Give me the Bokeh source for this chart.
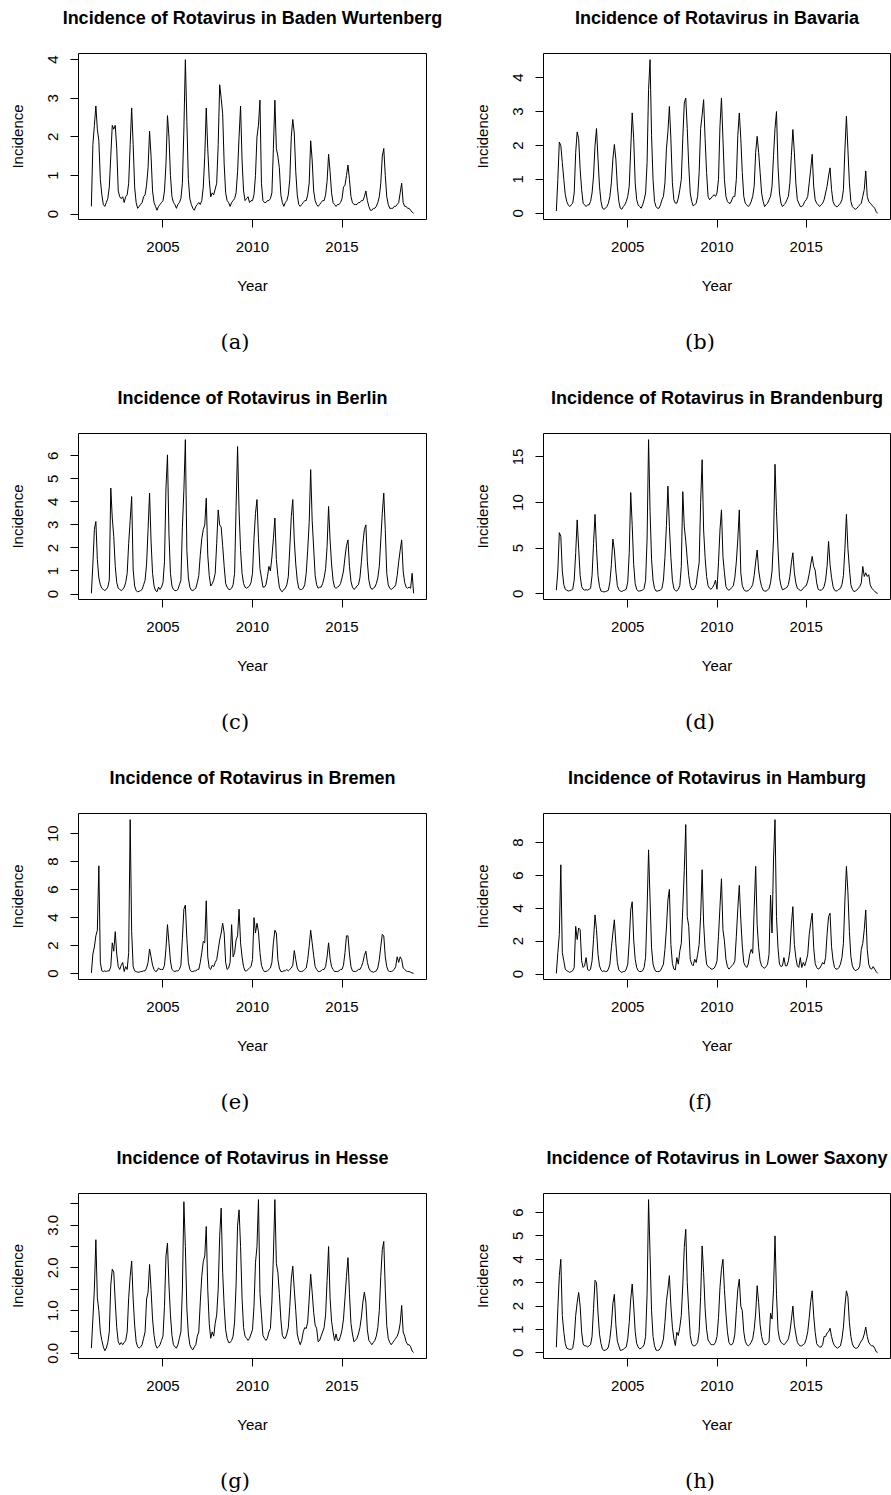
from bokeh.plotting import figure
from bokeh.models import Range1d, FixedTicker, PrintfTickFormatter, LinearAxis, CustomJSTickFormatter
from bokeh.layouts import column, row
from bokeh.embed import file_html
from bokeh.resources import INLINE

years = list(range(2001, 2019))
year_ticks = [2005, 2010, 2015]

titles = ["Incidence of Rotavirus in Baden Wurtenberg", "Incidence of Rotavirus in Bavaria",
          "Incidence of Rotavirus in Berlin", "Incidence of Rotavirus in Brandenburg",
          "Incidence of Rotavirus in Bremen", "Incidence of Rotavirus in Hamburg",
          "Incidence of Rotavirus in Hesse", "Incidence of Rotavirus in Lower Saxony"]
captions = ["(a)", "(b)", "(c)", "(d)", "(e)", "(f)", "(g)", "(h)"]

# monthly values, one row per year (Jan..Dec)
baden = [
    [0.2, 1.8, 2.3, 2.8, 2.2, 1.9, 0.9, 0.5, 0.25, 0.2, 0.3, 0.4],
    [0.7, 1.5, 2.3, 2.2, 2.3, 1.7, 0.6, 0.45, 0.4, 0.45, 0.3, 0.45],
    [0.5, 0.8, 1.8, 2.75, 1.8, 0.7, 0.3, 0.15, 0.2, 0.25, 0.3, 0.45],
    [0.5, 0.75, 1.2, 2.15, 1.5, 0.6, 0.3, 0.2, 0.1, 0.2, 0.25, 0.3],
    [0.35, 0.6, 1.3, 2.55, 2.0, 1.0, 0.45, 0.3, 0.25, 0.15, 0.25, 0.3],
    [0.4, 0.8, 2.2, 4.0, 2.4, 0.9, 0.4, 0.25, 0.15, 0.1, 0.2, 0.25],
    [0.3, 0.25, 0.35, 0.7, 1.5, 2.75, 1.7, 0.9, 0.45, 0.55, 0.5, 0.65],
    [0.8, 1.8, 3.35, 3.0, 2.6, 1.3, 0.55, 0.35, 0.3, 0.2, 0.3, 0.35],
    [0.4, 0.55, 1.1, 2.0, 2.8, 1.4, 0.6, 0.35, 0.4, 0.45, 0.3, 0.35],
    [0.35, 0.5, 1.0, 2.0, 2.3, 2.95, 0.8, 0.35, 0.3, 0.3, 0.35, 0.35],
    [0.4, 0.55, 1.7, 2.95, 1.7, 1.5, 1.2, 0.5, 0.3, 0.2, 0.3, 0.35],
    [0.5, 0.9, 2.0, 2.45, 2.1, 1.1, 0.5, 0.25, 0.2, 0.25, 0.3, 0.35],
    [0.35, 0.5, 0.8, 1.9, 1.4, 0.6, 0.35, 0.25, 0.2, 0.25, 0.3, 0.35],
    [0.35, 0.5, 0.85, 1.55, 1.1, 0.55, 0.3, 0.25, 0.2, 0.25, 0.25, 0.3],
    [0.4, 0.7, 0.75, 1.0, 1.27, 0.9, 0.45, 0.3, 0.25, 0.25, 0.25, 0.3],
    [0.3, 0.35, 0.35, 0.45, 0.6, 0.35, 0.2, 0.1, 0.1, 0.15, 0.15, 0.2],
    [0.3, 0.45, 0.8, 1.5, 1.7, 1.0, 0.45, 0.25, 0.15, 0.15, 0.15, 0.2],
    [0.2, 0.25, 0.3, 0.55, 0.8, 0.3, 0.2, 0.2, 0.15, 0.15, 0.1, 0.05],
]
baden_end = 0.02

bavaria = [
    [0.07, 1.0, 2.1, 2.0, 1.5, 1.0, 0.55, 0.35, 0.25, 0.2, 0.25, 0.3],
    [0.6, 1.8, 2.4, 2.2, 1.3, 0.7, 0.3, 0.25, 0.2, 0.25, 0.25, 0.35],
    [0.6, 1.1, 2.0, 2.5, 1.6, 0.8, 0.35, 0.15, 0.12, 0.15, 0.2, 0.3],
    [0.5, 0.9, 1.6, 2.03, 1.6, 0.8, 0.35, 0.15, 0.12, 0.2, 0.25, 0.35],
    [0.5, 0.8, 1.9, 2.96, 2.2, 0.9, 0.4, 0.25, 0.2, 0.15, 0.25, 0.4],
    [0.6, 1.5, 3.65, 4.53, 2.3, 1.0, 0.35, 0.2, 0.15, 0.15, 0.25, 0.4],
    [0.5, 0.9, 1.9, 2.4, 3.15, 2.2, 0.9, 0.4, 0.3, 0.3, 0.45, 0.7],
    [1.0, 2.2, 3.25, 3.4, 2.5, 1.4, 0.6, 0.35, 0.22, 0.25, 0.3, 0.5],
    [1.2, 2.5, 2.9, 3.35, 2.2, 1.2, 0.5, 0.4, 0.45, 0.5, 0.55, 0.5],
    [0.6, 1.0, 2.57, 3.4, 2.2, 1.0, 0.5, 0.35, 0.3, 0.3, 0.4, 0.5],
    [0.5, 1.0, 2.3, 2.96, 2.2, 1.2, 0.5, 0.3, 0.25, 0.2, 0.25, 0.35],
    [0.5, 0.8, 1.8, 2.27, 1.8, 1.2, 0.6, 0.35, 0.2, 0.25, 0.3, 0.4],
    [0.5, 0.8, 1.7, 2.5, 3.0, 1.4, 0.6, 0.3, 0.2, 0.25, 0.3, 0.4],
    [0.5, 0.9, 1.7, 2.47, 1.8, 0.9, 0.4, 0.3, 0.2, 0.2, 0.25, 0.35],
    [0.4, 0.5, 0.9, 1.3, 1.74, 0.8, 0.4, 0.3, 0.25, 0.2, 0.25, 0.3],
    [0.4, 0.6, 0.8, 1.1, 1.34, 0.7, 0.35, 0.25, 0.2, 0.2, 0.25, 0.3],
    [0.4, 0.7, 1.9, 2.86, 1.9, 0.9, 0.35, 0.2, 0.15, 0.12, 0.15, 0.2],
    [0.25, 0.3, 0.5, 0.7, 1.25, 0.5, 0.35, 0.3, 0.25, 0.2, 0.15, 0.05],
]
bavaria_end = 0.0

berlin = [
    [0.03, 1.3, 2.8, 3.15, 1.5, 0.7, 0.4, 0.25, 0.2, 0.15, 0.2, 0.3],
    [0.6, 4.6, 3.3, 2.5, 1.2, 0.5, 0.25, 0.2, 0.15, 0.2, 0.3, 0.5],
    [0.9, 2.2, 3.2, 4.23, 1.05, 0.35, 0.15, 0.1, 0.12, 0.15, 0.2, 0.4],
    [0.6, 1.3, 2.8, 4.38, 2.3, 0.9, 0.35, 0.15, 0.1, 0.3, 0.2, 0.3],
    [0.5, 1.4, 4.6, 6.04, 2.6, 0.9, 0.35, 0.2, 0.15, 0.15, 0.2, 0.4],
    [0.6, 2.9, 4.5, 6.7, 1.9, 0.7, 0.3, 0.17, 0.15, 0.2, 0.25, 0.5],
    [0.8, 1.7, 2.4, 2.8, 3.0, 4.16, 1.7, 0.8, 0.35, 0.45, 0.6, 0.9],
    [2.2, 3.65, 3.0, 2.9, 2.1, 1.2, 0.46, 0.3, 0.2, 0.2, 0.25, 0.4],
    [0.9, 3.8, 6.4, 3.6, 1.9, 0.9, 0.46, 0.3, 0.25, 0.3, 0.35, 0.5],
    [0.9, 2.4, 3.5, 4.1, 2.4, 1.1, 0.7, 0.3, 0.3, 0.4, 0.75, 1.2],
    [1.0, 1.6, 2.4, 3.3, 1.5, 0.8, 0.3, 0.15, 0.1, 0.2, 0.25, 0.4],
    [0.75, 2.0, 3.36, 4.1, 2.35, 1.3, 0.6, 0.25, 0.2, 0.2, 0.25, 0.4],
    [0.9, 1.9, 3.1, 5.4, 3.2, 2.0, 0.8, 0.4, 0.25, 0.3, 0.3, 0.45],
    [0.7, 1.1, 2.06, 3.8, 2.35, 1.3, 0.6, 0.3, 0.25, 0.3, 0.35, 0.45],
    [0.7, 1.0, 1.6, 2.1, 2.35, 1.2, 0.55, 0.3, 0.2, 0.25, 0.35, 0.4],
    [0.7, 1.4, 2.2, 2.8, 3.0, 1.4, 0.6, 0.3, 0.2, 0.25, 0.3, 0.45],
    [0.7, 1.2, 2.35, 3.5, 4.38, 2.8, 0.9, 0.4, 0.25, 0.2, 0.25, 0.3],
    [0.4, 0.8, 1.4, 1.9, 2.35, 1.0, 0.5, 0.3, 0.25, 0.3, 0.25, 0.9],
]
berlin_end = 0.03

brandenburg = [
    [0.4, 2.5, 6.7, 6.3, 2.5, 1.0, 0.5, 0.4, 0.3, 0.35, 0.4, 0.5],
    [1.5, 4.5, 8.1, 5.0, 2.0, 0.8, 0.5, 0.4, 0.45, 0.4, 0.5, 0.6],
    [2.0, 5.5, 8.7, 5.0, 2.0, 0.8, 0.3, 0.25, 0.2, 0.25, 0.3, 0.4],
    [1.3, 3.2, 6.0, 4.8, 2.5, 0.9, 0.44, 0.3, 0.25, 0.35, 0.4, 0.5],
    [1.3, 4.5, 11.1, 7.5, 3.2, 1.1, 0.5, 0.3, 0.3, 0.35, 0.4, 0.6],
    [1.5, 6.0, 16.9, 9.0, 3.8, 1.5, 0.6, 0.3, 0.3, 0.35, 0.4, 0.6],
    [1.5, 4.0, 7.5, 11.8, 7.4, 4.0, 1.5, 0.6, 0.35, 0.3, 0.5, 0.9],
    [3.0, 11.2, 7.4, 5.8, 3.8, 2.0, 0.9, 0.5, 0.45, 0.6, 1.0, 2.3],
    [3.4, 10.0, 14.7, 7.0, 4.0, 1.9, 0.9, 0.6, 0.5, 0.7, 1.0, 1.5],
    [0.5, 3.4, 7.0, 9.2, 4.1, 2.3, 0.8, 0.5, 0.4, 0.5, 0.7, 0.9],
    [1.8, 3.5, 6.0, 9.2, 2.3, 0.9, 0.5, 0.3, 0.3, 0.35, 0.5, 0.7],
    [1.0, 2.0, 3.5, 4.8, 2.6, 1.5, 0.8, 0.4, 0.3, 0.3, 0.4, 0.6],
    [1.2, 2.5, 6.0, 14.2, 9.0, 5.0, 1.8, 0.9, 0.44, 0.5, 0.6, 0.7],
    [1.0, 1.9, 3.4, 4.5, 2.3, 1.2, 0.6, 0.5, 0.35, 0.4, 0.6, 0.8],
    [0.9, 1.4, 2.2, 3.2, 4.1, 3.0, 2.6, 1.2, 0.5, 0.4, 0.4, 0.5],
    [0.8, 1.5, 3.0, 5.75, 3.2, 1.8, 0.8, 0.4, 0.3, 0.35, 0.5, 0.6],
    [1.0, 2.0, 5.0, 8.7, 5.0, 2.8, 1.0, 0.5, 0.25, 0.3, 0.4, 0.6],
    [0.8, 1.2, 3.0, 1.9, 2.3, 1.9, 2.1, 1.0, 0.6, 0.45, 0.3, 0.1],
]
brandenburg_end = 0.05

bremen = [
    [0.05, 1.4, 1.9, 2.7, 3.1, 7.7, 0.8, 0.2, 0.15, 0.2, 0.15, 0.2],
    [0.2, 0.5, 2.2, 1.6, 3.0, 1.4, 0.5, 0.3, 0.6, 0.8, 0.15, 0.5],
    [0.3, 1.5, 11.0, 3.0, 0.5, 0.2, 0.15, 0.1, 0.1, 0.15, 0.15, 0.2],
    [0.2, 0.4, 0.8, 1.76, 1.2, 0.6, 0.3, 0.15, 0.2, 0.4, 0.3, 0.3],
    [0.3, 0.6, 1.8, 3.5, 2.2, 0.9, 0.3, 0.2, 0.15, 0.2, 0.2, 0.3],
    [0.6, 2.5, 4.6, 4.9, 2.5, 0.8, 0.3, 0.15, 0.15, 0.2, 0.2, 0.3],
    [0.3, 0.8, 1.5, 2.3, 2.2, 5.2, 1.2, 0.4, 0.3, 0.6, 0.5, 0.8],
    [1.0, 1.7, 2.4, 2.9, 3.6, 2.9, 0.8, 0.3, 0.4, 0.8, 3.5, 1.2],
    [1.5, 2.4, 2.7, 4.6, 2.2, 1.2, 0.5, 0.2, 0.2, 0.3, 0.4, 0.5],
    [1.0, 4.0, 2.9, 3.6, 3.0, 1.5, 0.6, 0.3, 0.15, 0.15, 0.2, 0.3],
    [0.4, 0.8, 2.2, 3.1, 2.9, 1.0, 0.4, 0.15, 0.15, 0.2, 0.2, 0.3],
    [0.2, 0.3, 0.4, 0.6, 1.65, 1.0, 0.4, 0.2, 0.15, 0.15, 0.2, 0.3],
    [0.4, 1.0, 1.95, 3.1, 2.2, 1.3, 0.5, 0.3, 0.15, 0.15, 0.2, 0.3],
    [0.3, 0.5, 1.2, 2.2, 1.1, 0.5, 0.3, 0.15, 0.15, 0.15, 0.2, 0.3],
    [0.3, 0.6, 1.5, 2.7, 2.7, 1.4, 0.5, 0.2, 0.15, 0.15, 0.2, 0.3],
    [0.3, 0.5, 0.8, 1.3, 1.6, 0.8, 0.4, 0.2, 0.15, 0.1, 0.15, 0.2],
    [0.4, 1.0, 1.95, 2.8, 2.7, 1.2, 0.5, 0.2, 0.15, 0.15, 0.2, 0.3],
    [0.5, 1.2, 0.8, 1.2, 1.0, 0.4, 0.3, 0.2, 0.15, 0.15, 0.1, 0.05],
]
bremen_end = 0.02

hamburg = [
    [0.04, 1.3, 2.4, 6.65, 1.3, 0.8, 0.3, 0.2, 0.15, 0.1, 0.15, 0.2],
    [0.4, 2.9, 2.1, 2.8, 2.7, 0.8, 0.4, 0.5, 1.0, 0.3, 0.2, 0.3],
    [0.8, 2.1, 3.6, 2.7, 1.2, 0.5, 0.25, 0.15, 0.2, 0.15, 0.15, 0.3],
    [0.6, 1.6, 2.5, 3.3, 1.87, 0.7, 0.25, 0.15, 0.1, 0.15, 0.15, 0.3],
    [0.6, 2.0, 3.9, 4.4, 2.07, 0.9, 0.4, 0.2, 0.15, 0.15, 0.2, 0.4],
    [1.0, 3.9, 7.56, 4.5, 1.6, 0.6, 0.3, 0.15, 0.15, 0.15, 0.2, 0.4],
    [0.6, 1.5, 2.8, 4.5, 5.16, 1.8, 0.65, 0.3, 0.25, 1.0, 0.6, 1.4],
    [1.87, 4.0, 6.3, 9.1, 3.5, 2.9, 0.9, 0.6, 0.5, 0.9, 0.7, 1.2],
    [1.8, 3.5, 6.35, 3.1, 1.5, 0.6, 0.45, 0.4, 0.3, 0.3, 0.35, 0.5],
    [0.8, 2.3, 4.1, 5.8, 2.7, 2.0, 0.9, 0.45, 0.3, 0.4, 0.5, 0.6],
    [0.8, 2.3, 4.0, 5.4, 3.3, 1.7, 0.7, 0.5, 0.4, 0.6, 1.2, 1.5],
    [1.26, 4.0, 6.55, 3.0, 1.6, 0.8, 0.5, 0.4, 0.35, 0.45, 0.6, 1.2],
    [4.8, 2.5, 7.0, 9.4, 3.5, 1.6, 0.6, 0.45, 0.5, 1.0, 0.5, 0.5],
    [0.8, 1.4, 3.0, 4.1, 1.8, 1.0, 0.5, 0.4, 1.0, 0.4, 0.7, 0.5],
    [0.8, 1.2, 2.4, 3.1, 3.7, 1.6, 0.65, 0.4, 0.3, 0.35, 0.5, 0.7],
    [0.6, 1.0, 2.4, 3.5, 3.7, 1.67, 0.85, 0.4, 0.3, 0.3, 0.4, 0.6],
    [1.0, 1.87, 4.5, 6.55, 5.0, 2.6, 1.06, 0.5, 0.3, 0.2, 0.25, 0.3],
    [0.5, 1.5, 1.87, 2.7, 3.9, 1.5, 0.6, 0.35, 0.3, 0.45, 0.3, 0.15],
]
hamburg_end = 0.04

hesse = [
    [0.12, 0.8, 1.5, 2.66, 1.3, 1.0, 0.5, 0.3, 0.15, 0.06, 0.12, 0.25],
    [0.5, 1.6, 1.97, 1.9, 1.2, 0.6, 0.27, 0.2, 0.25, 0.2, 0.25, 0.3],
    [0.5, 1.3, 1.8, 2.16, 1.27, 0.66, 0.27, 0.15, 0.12, 0.15, 0.2, 0.35],
    [0.5, 1.27, 1.43, 2.08, 1.5, 0.8, 0.42, 0.2, 0.12, 0.15, 0.2, 0.3],
    [0.4, 1.1, 2.28, 2.58, 1.6, 0.9, 0.42, 0.2, 0.15, 0.12, 0.2, 0.35],
    [0.5, 1.5, 3.55, 2.5, 1.04, 0.45, 0.2, 0.12, 0.08, 0.15, 0.2, 0.4],
    [0.5, 1.2, 1.8, 2.15, 2.28, 2.97, 1.5, 0.7, 0.35, 0.5, 0.4, 0.7],
    [0.9, 1.5, 2.74, 3.4, 1.9, 1.1, 0.55, 0.35, 0.25, 0.25, 0.3, 0.4],
    [0.73, 1.6, 3.0, 3.36, 2.5, 1.3, 0.6, 0.4, 0.35, 0.3, 0.35, 0.45],
    [0.55, 1.1, 2.12, 2.5, 3.6, 1.4, 0.9, 0.42, 0.35, 0.3, 0.35, 0.5],
    [0.58, 1.2, 2.28, 3.6, 2.1, 1.9, 1.4, 0.8, 0.42, 0.35, 0.35, 0.45],
    [0.6, 1.1, 1.74, 2.04, 1.5, 1.0, 0.45, 0.3, 0.2, 0.3, 0.5, 0.6],
    [0.58, 0.73, 1.27, 1.85, 1.43, 0.96, 0.66, 0.58, 0.27, 0.3, 0.4, 0.5],
    [0.6, 0.9, 1.7, 2.5, 1.3, 0.75, 0.5, 0.3, 0.45, 0.3, 0.3, 0.4],
    [0.55, 0.8, 1.3, 1.8, 2.24, 1.4, 0.7, 0.45, 0.27, 0.3, 0.35, 0.45],
    [0.6, 0.85, 1.2, 1.43, 1.2, 0.55, 0.3, 0.25, 0.2, 0.25, 0.3, 0.4],
    [0.6, 1.0, 1.8, 2.43, 2.62, 1.5, 0.65, 0.35, 0.25, 0.2, 0.25, 0.3],
    [0.35, 0.4, 0.5, 0.7, 1.12, 0.5, 0.4, 0.27, 0.2, 0.2, 0.15, 0.05],
]
hesse_end = 0.02

lower_saxony = [
    [0.24, 1.9, 3.3, 4.0, 1.6, 0.9, 0.4, 0.2, 0.17, 0.15, 0.15, 0.2],
    [0.6, 1.6, 2.15, 2.58, 2.0, 0.9, 0.38, 0.3, 0.3, 0.25, 0.3, 0.35],
    [0.7, 1.9, 3.1, 3.0, 1.7, 0.8, 0.4, 0.15, 0.1, 0.12, 0.15, 0.25],
    [0.6, 1.2, 2.1, 2.5, 1.2, 0.5, 0.3, 0.1, 0.12, 0.15, 0.2, 0.25],
    [0.6, 1.3, 2.3, 2.94, 2.0, 0.9, 0.4, 0.25, 0.17, 0.2, 0.25, 0.35],
    [0.7, 2.5, 6.55, 4.2, 1.8, 0.7, 0.3, 0.12, 0.1, 0.12, 0.2, 0.35],
    [0.6, 1.3, 2.2, 2.72, 3.3, 2.0, 1.1, 0.6, 0.31, 0.88, 0.74, 1.1],
    [1.6, 2.9, 4.5, 5.28, 3.0, 1.8, 0.74, 0.4, 0.3, 0.3, 0.35, 0.45],
    [0.9, 2.4, 4.57, 3.43, 1.9, 1.0, 0.55, 0.45, 0.35, 0.35, 0.35, 0.45],
    [0.7, 1.5, 2.8, 3.57, 4.0, 2.7, 1.7, 0.9, 0.45, 0.35, 0.35, 0.45],
    [0.8, 1.8, 2.72, 3.15, 2.0, 1.8, 0.9, 0.5, 0.35, 0.3, 0.35, 0.45],
    [0.6, 1.0, 1.7, 2.87, 2.15, 1.2, 0.7, 0.45, 0.35, 0.35, 0.4, 0.5],
    [1.7, 1.45, 2.72, 5.0, 2.5, 1.0, 0.6, 0.45, 0.4, 0.35, 0.4, 0.5],
    [0.6, 0.9, 1.4, 2.0, 1.2, 0.8, 0.45, 0.35, 0.3, 0.3, 0.35, 0.4],
    [0.6, 0.9, 1.5, 2.2, 2.65, 1.6, 0.88, 0.4, 0.3, 0.25, 0.25, 0.35],
    [0.7, 0.7, 0.85, 0.9, 1.05, 0.7, 0.45, 0.3, 0.25, 0.2, 0.25, 0.3],
    [0.6, 1.1, 2.0, 2.65, 2.4, 1.3, 0.7, 0.38, 0.25, 0.2, 0.2, 0.25],
    [0.4, 0.5, 0.6, 0.8, 1.1, 0.7, 0.45, 0.35, 0.3, 0.3, 0.2, 0.05],
]
lower_saxony_end = 0.02

y_ticks = [
    [0, 1, 2, 3, 4], [0, 1, 2, 3, 4], [0, 1, 2, 3, 4, 5, 6], [0, 5, 10, 15],
    [0, 2, 4, 6, 8, 10], [0, 2, 4, 6, 8], [0, 1, 2, 3], [0, 1, 2, 3, 4, 5, 6],
]
hesse_minor_ticks = [0.5, 1.5, 2.5, 3.5]

series = [(baden, baden_end), (bavaria, bavaria_end), (berlin, berlin_end),
          (brandenburg, brandenburg_end), (bremen, bremen_end), (hamburg, hamburg_end),
          (hesse, hesse_end), (lower_saxony, lower_saxony_end)]

SANS = "Liberation Sans"
FRAME_H = 166
TOP = 53
CAPTION_CENTER = 156.5   # px from the frame's left edge


def bare_axis(ax):
    ax.axis_line_color = None
    ax.major_tick_line_color = None
    ax.minor_tick_line_color = None
    ax.major_tick_out = 0
    ax.major_tick_in = 0
    ax.minor_tick_out = 0
    ax.minor_tick_in = 0


def make_panel(i):
    vals, end = series[i]
    xs = [yr + m / 12.0 for yr in years for m in range(12)] + [years[-1] + 1.0]
    ys = [v for yr_vals in vals for v in yr_vals] + [end]
    lo, hi = min(ys), max(ys)
    r = hi - lo
    x0, x1 = years[0], years[-1] + 1.0
    xr = x1 - x0
    xlo, xhi = x0 - 0.04 * xr, x1 + 0.04 * xr
    left_col = (i % 2 == 0)
    width = 445 if left_col else 446
    border_left = 78 if left_col else 98
    frame_w = 348 if left_col else 347
    last_row = i >= 6
    height = 355 if last_row else 380
    p = figure(width=width, height=height, output_backend="svg", toolbar_location=None,
               x_range=Range1d(xlo, xhi), y_range=Range1d(lo - 0.04 * r, hi + 0.04 * r),
               min_border_left=border_left, min_border_right=width - border_left - frame_w,
               min_border_top=TOP, min_border_bottom=height - TOP - FRAME_H,
               background_fill_color="white", border_fill_color="white")
    p.outline_line_color = "black"
    p.outline_line_width = 1
    p.outline_line_alpha = 1
    p.xgrid.visible = False
    p.ygrid.visible = False
    p.line(xs, ys, line_color="black", line_width=1)

    for ax in (p.xaxis[0], p.yaxis[0]):
        ax.axis_line_color = None
        ax.major_tick_out = 8
        ax.major_tick_in = 0
        ax.major_tick_line_color = "black"
        ax.minor_tick_out = 0
        ax.minor_tick_in = 0
        ax.major_label_text_font = SANS
        ax.major_label_text_font_size = "15px"
        ax.major_label_text_color = "black"
        ax.axis_label_text_font = SANS
        ax.axis_label_text_font_size = "15px"
        ax.axis_label_text_font_style = "normal"
        ax.axis_label_text_color = "black"

    xa = p.xaxis[0]
    xa.ticker = FixedTicker(ticks=year_ticks)
    xa.axis_label = "Year"
    xa.major_label_standoff = 14
    xa.axis_label_standoff = 22

    ya = p.yaxis[0]
    ya.axis_label = "Incidence"
    ya.major_label_orientation = "vertical"
    ya.major_label_standoff = 12
    ya.axis_label_standoff = 20
    if i == 6:
        ya.ticker = FixedTicker(ticks=y_ticks[i], minor_ticks=hesse_minor_ticks)
        ya.formatter = PrintfTickFormatter(format="%.1f")
        ya.minor_tick_out = 8
        ya.minor_tick_line_color = "black"
    else:
        ya.ticker = FixedTicker(ticks=y_ticks[i])
        ya.formatter = PrintfTickFormatter(format="%d")

    # title: label of a bare axis above the frame
    top_ax = LinearAxis(ticker=FixedTicker(ticks=[]), axis_label=titles[i],
                        axis_label_text_font=SANS, axis_label_text_font_size="18px",
                        axis_label_text_font_style="bold", axis_label_text_color="black",
                        axis_label_standoff=26, major_label_standoff=0)
    bare_axis(top_ax)
    p.add_layout(top_ax, "above")

    # caption: tick label of a bare axis below the x axis
    cap_x = xlo + CAPTION_CENTER * (xhi - xlo) / frame_w
    cap_ax = LinearAxis(ticker=FixedTicker(ticks=[cap_x]),
                        formatter=CustomJSTickFormatter(code="return '%s';" % captions[i]),
                        major_label_text_font="DejaVu Serif", major_label_text_font_size="21px",
                        major_label_text_color="black", major_label_standoff=33)
    bare_axis(cap_ax)
    p.add_layout(cap_ax, "below")
    return p


panels = [make_panel(i) for i in range(8)]
layout = column(row(panels[0], panels[1]), row(panels[2], panels[3]),
                row(panels[4], panels[5]), row(panels[6], panels[7]))

with open("out.html", "w") as f:
    f.write(file_html(layout, INLINE))
